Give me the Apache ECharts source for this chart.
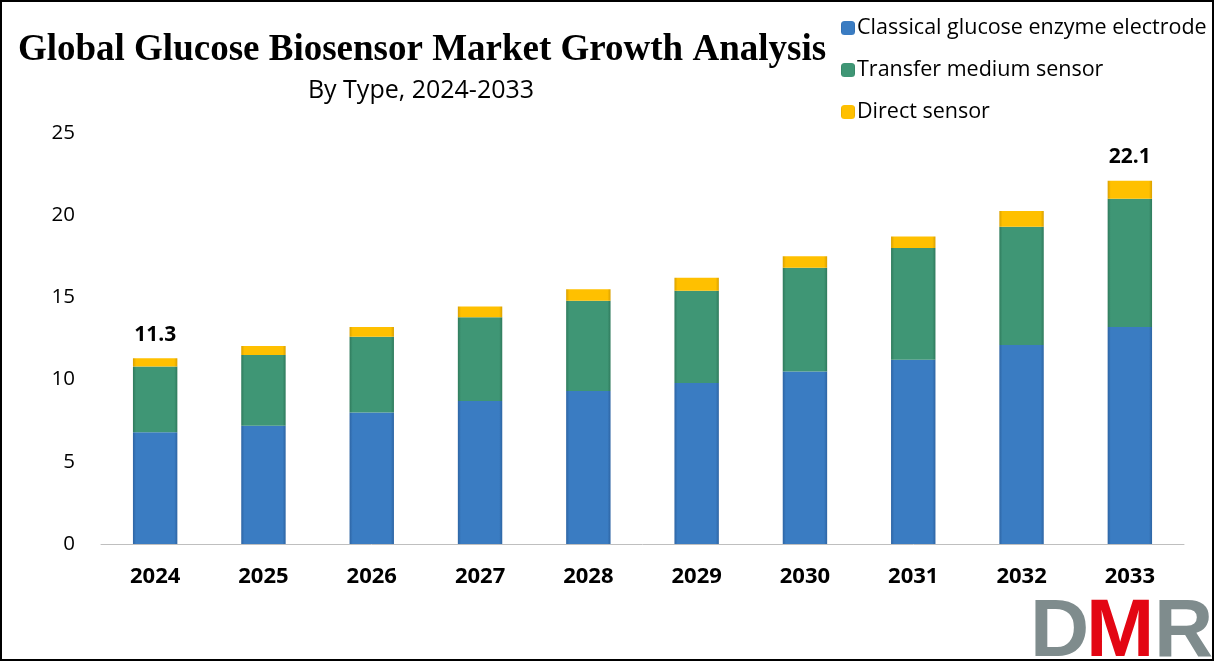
<!DOCTYPE html>
<html><head><meta charset="utf-8">
<script src="https://cdn.jsdelivr.net/npm/echarts@6/dist/echarts.min.js"></script>
<style>html,body{margin:0;padding:0;background:#fff}#c{width:1216px;height:663px}</style>
</head><body><div id="c"></div>
<script>
const categories = ['2024','2025','2026','2027','2028','2029','2030','2031','2032','2033'];
const classical = [6.8, 7.2, 8.0, 8.7, 9.3, 9.8, 10.5, 11.2, 12.1, 13.2];
const transfer  = [4.0, 4.3, 4.6, 5.1, 5.5, 5.6, 6.3, 6.8, 7.2, 7.8];
const direct    = [0.5, 0.55, 0.6, 0.65, 0.7, 0.8, 0.7, 0.7, 0.95, 1.1];
const labeledTotals = {0: '11.3', 9: '22.1'};
const yTicks = [0, 5, 10, 15, 20, 25];

function grad(edge, mid){
  return {type:'linear',x:0,y:0,x2:1,y2:0,colorStops:[
    {offset:0,color:edge},{offset:0.07,color:mid},{offset:0.93,color:mid},{offset:1,color:edge}]};
}
const chart = echarts.init(document.getElementById('c'));
chart.setOption({
  animation:false,
  backgroundColor:'#fff',
  title:[{text:'Global Glucose Biosensor Market Growth Analysis',left:417,textAlign:'center',top:27,
    textStyle:{fontFamily:'Liberation Serif',fontWeight:'bold',fontSize:37,color:'#000'}},
    {text:'By Type, 2024-2033',left:416,textAlign:'center',top:73,
    textStyle:{fontFamily:'Open Sans',fontWeight:'normal',fontSize:25,color:'#000'}}],
  legend:{orient:'vertical',left:836,top:12,itemGap:20,itemWidth:14,itemHeight:14,
    textStyle:{fontFamily:'Open Sans',fontSize:21.5,color:'#000',padding:[0,0,0,-3]},
    data:['Classical glucose enzyme electrode','Transfer medium sensor','Direct sensor']},
  grid:{left:101,right:32,top:133,bottom:119},
  xAxis:{type:'category',data:categories,
    axisLine:{lineStyle:{color:'#bfbfbf',width:1}},axisTick:{show:false},
    axisLabel:{fontFamily:'Open Sans',fontWeight:'bold',fontSize:22,color:'#000',margin:22}},
  yAxis:{type:'value',min:0,max:25,interval:5,
    axisLine:{show:false},axisTick:{show:false},splitLine:{show:false},
    axisLabel:{fontFamily:'Open Sans',fontSize:20.5,color:'#000',margin:26,
      formatter:v=>yTicks.includes(v)?String(v):''}},
  series:[
    {name:'Classical glucose enzyme electrode',type:'bar',stack:'t',barWidth:'41%',data:classical,
      itemStyle:{color:grad('#2d64a3','#3a7cc2')},emphasis:{disabled:true}},
    {name:'Transfer medium sensor',type:'bar',stack:'t',data:transfer,
      itemStyle:{color:grad('#2f7a5c','#3f9675')},emphasis:{disabled:true}},
    {name:'Direct sensor',type:'bar',stack:'t',data:direct,
      itemStyle:{color:grad('#d9a000','#ffc000')},emphasis:{disabled:true},
      label:{show:true,position:'top',distance:13,fontFamily:'Open Sans',fontWeight:'bold',fontSize:21,color:'#000',
        formatter:p=>labeledTotals[p.dataIndex]||''}}
  ],
  graphic:[
    {type:'rect',shape:{x:1,y:1,width:1212,height:659},style:{fill:'none',stroke:'#000',lineWidth:2},z:100},
    {type:'text',left:1030,top:592,style:{text:'D',fontFamily:'Liberation Sans',fontWeight:'bold',fontSize:82,fill:'#7f8c8d'}},
    {type:'text',left:1086,top:592,style:{text:'M',fontFamily:'Liberation Sans',fontWeight:'bold',fontSize:82,fill:'#e30613'}},
    {type:'text',left:1154,top:592,style:{text:'R',fontFamily:'Liberation Sans',fontWeight:'bold',fontSize:82,fill:'#7f8c8d'}}
  ]
});
</script></body></html>
